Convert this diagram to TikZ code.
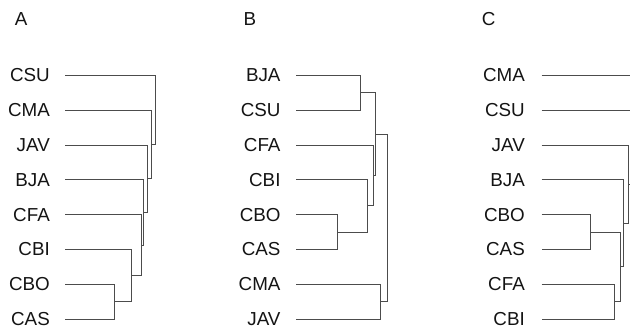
\documentclass[tikz,border=0pt]{standalone}
\usepackage{fontspec}
\setmainfont{Liberation Sans}
\begin{document}
\begin{tikzpicture}[x=1pt,y=-1pt,
  lab/.style={font=\fontsize{18.8}{20}\selectfont, text=black!92, inner sep=0pt, anchor=base east},
  ttl/.style={font=\fontsize{18.8}{20}\selectfont, text=black!92, inner sep=0pt, anchor=base west},
  br/.style={draw=black!70, line width=1pt}]
\useasboundingbox (0,0) rectangle (630,329);
% panel titles
\node[ttl] (tA) at (14.7,25.7) {A};
\node[ttl] (tB) at (243.3,25.7) {B};
\node[ttl] (tC) at (481.7,25.7) {C};
% rows
\def\rA{75.5}\def\rB{110.29}\def\rC{145.07}\def\rD{179.86}
\def\rE{214.64}\def\rF{249.43}\def\rG{284.21}\def\rH{319.0}
% ---------- Panel A ----------
\foreach \lbl/\r/\n in {CSU/\rA/1, CMA/\rB/2, JAV/\rC/3, BJA/\rD/4, CFA/\rE/5, CBI/\rF/6, CBO/\rG/7, CAS/\rH/8}{
  \node[lab] (A\n) at (50,\r+6.4) {\lbl};
  \coordinate (As\n) at (65,\r);
}
\coordinate (m1) at (114.5,301.6);
\coordinate (m2) at (131,275.5);
\coordinate (m3) at (141.7,245.07);
\coordinate (m4) at (143.3,212.47);
\coordinate (m5) at (147.7,178.77);
\coordinate (m6) at (151.7,144.53);
\coordinate (m7) at (155.7,110.0);
\draw[br] (As7) -- (As7 -| m1) -- (As8 -| m1) -- (As8);
\draw[br] (As6) -- (As6 -| m2) -- (m1 -| m2) -- (m1);
\draw[br] (As5) -- (As5 -| m3) -- (m2 -| m3) -- (m2);
\draw[br] (As4) -- (As4 -| m4) -- (m3 -| m4) -- (m3);
\draw[br] (As3) -- (As3 -| m5) -- (m4 -| m5) -- (m4);
\draw[br] (As2) -- (As2 -| m6) -- (m5 -| m6) -- (m5);
\draw[br] (As1) -- (As1 -| m7) -- (m6 -| m7) -- (m6);
% ---------- Panel B ----------
\foreach \lbl/\r/\n in {BJA/\rA/1, CSU/\rB/2, CFA/\rC/3, CBI/\rD/4, CBO/\rE/5, CAS/\rF/6, CMA/\rG/7, JAV/\rH/8}{
  \node[lab] (B\n) at (280.7,\r+6.4) {\lbl};
  \coordinate (Bs\n) at (296,\r);
}
\coordinate (n1) at (360.7,92.9);
\coordinate (n2) at (337,232.04);
\coordinate (n3) at (367.3,205.95);
\coordinate (n4) at (373.3,175.51);
\coordinate (n5) at (375.7,134.2);
\coordinate (n6) at (380,301.6);
\coordinate (n7) at (387.3,217.9);
\draw[br] (Bs1) -- (Bs1 -| n1) -- (Bs2 -| n1) -- (Bs2);
\draw[br] (Bs5) -- (Bs5 -| n2) -- (Bs6 -| n2) -- (Bs6);
\draw[br] (Bs4) -- (Bs4 -| n3) -- (n2 -| n3) -- (n2);
\draw[br] (Bs3) -- (Bs3 -| n4) -- (n3 -| n4) -- (n3);
\draw[br] (n1) -- (n1 -| n5) -- (n4 -| n5) -- (n4);
\draw[br] (Bs7) -- (Bs7 -| n6) -- (Bs8 -| n6) -- (Bs8);
\draw[br] (n5) -- (n5 -| n7) -- (n6 -| n7) -- (n6);
% ---------- Panel C ----------
\foreach \lbl/\r/\n in {CMA/\rA/1, CSU/\rB/2, JAV/\rC/3, BJA/\rD/4, CBO/\rE/5, CAS/\rF/6, CFA/\rG/7, CBI/\rH/8}{
  \node[lab] (C\n) at (525,\r+6.4) {\lbl};
  \coordinate (Cs\n) at (541.5,\r);
}
\coordinate (e1) at (630,\rA);
\coordinate (e2) at (630,\rB);
\coordinate (p1) at (590,232.04);
\coordinate (p2) at (614.3,301.6);
\coordinate (p3) at (620,266.82);
\coordinate (p4) at (623.7,223.34);
\coordinate (p5) at (628,184.2);
\coordinate (e5) at (630,184.2);
\draw[br] (Cs1) -- (e1);
\draw[br] (Cs2) -- (e2);
\draw[br] (Cs5) -- (Cs5 -| p1) -- (Cs6 -| p1) -- (Cs6);
\draw[br] (Cs7) -- (Cs7 -| p2) -- (Cs8 -| p2) -- (Cs8);
\draw[br] (p1) -- (p1 -| p3) -- (p2 -| p3) -- (p2);
\draw[br] (Cs4) -- (Cs4 -| p4) -- (p3 -| p4) -- (p3);
\draw[br] (Cs3) -- (Cs3 -| p5) -- (p4 -| p5) -- (p4);
\draw[br] (p5) -- (e5);
\end{tikzpicture}
\end{document}
